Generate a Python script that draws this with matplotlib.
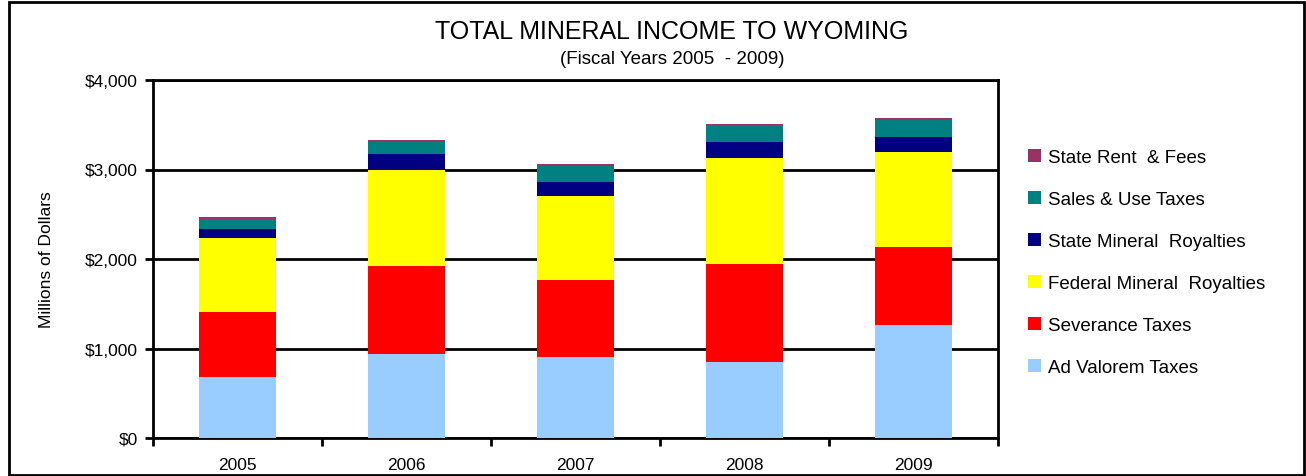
import matplotlib.pyplot as plt
import matplotlib.patches as patches
from matplotlib.ticker import FuncFormatter

plt.rcParams['font.family'] = ['Liberation Sans', 'DejaVu Sans']

years = ['2005', '2006', '2007', '2008', '2009']

# millions of dollars
ad_valorem = [678, 939, 901, 849, 1266]
severance = [726, 986, 864, 1095, 868]
federal_royalties = [831, 1069, 939, 1181, 1058]
state_royalties = [104, 179, 160, 186, 175]
sales_use = [108, 134, 171, 186, 189]
rent_fees = [22, 23, 23, 11, 19]

series = [
    ('Ad Valorem Taxes', ad_valorem, '#99ccff'),
    ('Severance Taxes', severance, '#ff0000'),
    ('Federal Mineral  Royalties', federal_royalties, '#ffff00'),
    ('State Mineral  Royalties', state_royalties, '#000080'),
    ('Sales & Use Taxes', sales_use, '#008080'),
    ('State Rent  & Fees', rent_fees, '#993366'),
]

fig = plt.figure(figsize=(13.06, 4.77), dpi=100)
ax = fig.add_axes([153 / 1306, 1 - 439 / 477, 845 / 1306, 358 / 477])

x = list(range(len(years)))
bottom = [0] * len(years)
for name, vals, col in series:
    ax.bar(x, vals, 0.45, bottom=bottom, color=col, label=name, zorder=3)
    bottom = [b + v for b, v in zip(bottom, vals)]

ax.set_xlim(-0.5, 4.5)
ax.set_ylim(0, 4000)
ax.set_yticks([0, 1000, 2000, 3000, 4000])
ax.yaxis.set_major_formatter(FuncFormatter(lambda v, p: '${:,.0f}'.format(v)))
ax.grid(axis='y', color='black', linewidth=2, zorder=1)

ax.set_xticks(x)
ax.set_xticklabels(years, fontsize=12.5)
ax.set_xticks([i + 0.5 for i in range(-1, 5)], minor=True)
ax.tick_params(axis='x', which='major', length=0, pad=14)
ax.tick_params(axis='x', which='minor', length=6, width=2, direction='out')
ax.tick_params(axis='y', length=6, width=2, labelsize=12.5, pad=5)

for s in ax.spines.values():
    s.set_linewidth(2)

ax.set_ylabel('Millions of Dollars', fontsize=12.5, labelpad=22)

fig.text(672 / 1306, 1 - 32 / 477, 'TOTAL MINERAL INCOME TO WYOMING', ha='center', va='center', fontsize=18)
fig.text(672 / 1306, 1 - 59 / 477, '(Fiscal Years 2005  - 2009)', ha='center', va='center', fontsize=13.5)

handles, labels = ax.get_legend_handles_labels()
leg = fig.legend(handles[::-1], labels[::-1], loc='upper left', bbox_to_anchor=(1011 / 1306, 1 - 133 / 477),
                 frameon=False, fontsize=13.5, handlelength=0.7, handleheight=0.7, handletextpad=0.4,
                 labelspacing=1.33)

fig.patches.append(patches.Rectangle((9 / 1306, 1 / 477), 1295 / 1306, 473 / 477, transform=fig.transFigure,
                                     fill=False, edgecolor='black', linewidth=2))

fig.savefig('out.png', dpi=100)
